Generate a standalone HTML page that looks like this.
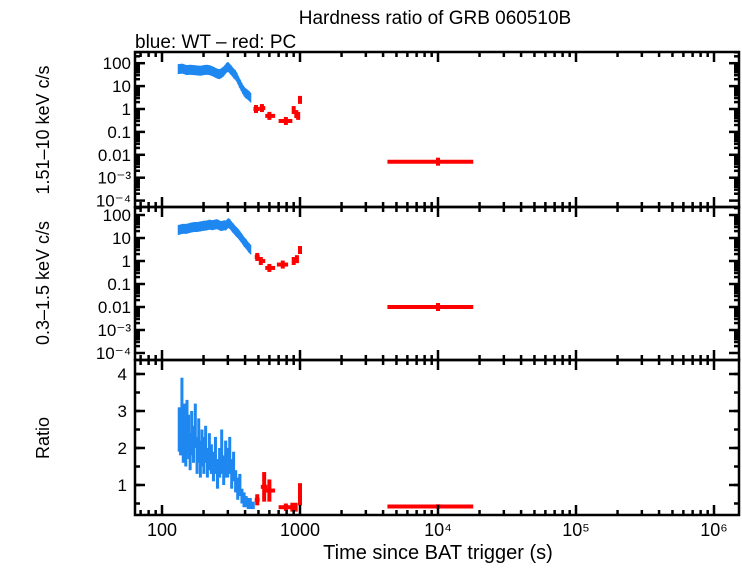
<!DOCTYPE html>
<html><head><meta charset="utf-8"><style>
body{margin:0;background:#fff;}
svg text{font-family:"Liberation Sans",sans-serif;fill:#000;}
</style></head><body>
<svg id="c" width="742" height="566" xmlns="http://www.w3.org/2000/svg">
<text x="435" y="24" font-size="19" text-anchor="middle">Hardness ratio of GRB 060510B</text>
<text x="135" y="48" font-size="19">blue: WT – red: PC</text>
<text x="438" y="559" font-size="20" text-anchor="middle">Time since BAT trigger (s)</text>
<text transform="translate(49,130) rotate(-90)" font-size="18" text-anchor="middle">1.51–10 keV c/s</text>
<text transform="translate(49,283) rotate(-90)" font-size="18" text-anchor="middle">0.3–1.5 keV c/s</text>
<text transform="translate(49,438) rotate(-90)" font-size="18" text-anchor="middle">Ratio</text>
<g id="g"></g>
</svg>
<script>
// Data
const wtHardT=[130,140,150,160,170,180,190,200,210,220,230,240,250,260,270,280,290,300,310,320,330,340,350,360,370,380,390,400,410,420,430,440];
const wtHardV=[55,58,50,52,50,48,47,50,52,50,45,40,35,33,38,45,60,70,55,45,35,30,22,15,11,8,6,5,4.5,4,3.5,3];
const pcHardT=[480,530,600,790,900,940,970,1000,10000];
const pcHardLo=[460,510,560,700,880,920,950,990,4300];
const pcHardHi=[510,560,660,880,920,960,990,1010,18000];
const pcHardV=[1,1.1,0.5,0.3,0.9,0.6,0.5,2.5,0.005];
const wtSoftT=[130,140,150,160,170,180,190,200,210,220,230,240,250,260,270,280,290,300,310,320,330,340,350,360,370,380,390,400,410,420,430,440];
const wtSoftV=[22,25,25,28,30,30,32,34,35,38,36,38,40,35,33,36,35,45,40,30,25,20,17,14,11,9,7,6,5,4,3.5,3];
const pcSoftT=[490,520,600,750,900,950,1000,10000];
const pcSoftLo=[470,505,560,680,880,930,990,4300];
const pcSoftHi=[510,560,660,820,920,970,1010,18000];
const pcSoftV=[1.5,1,0.5,0.7,1,1.2,3,0.01];
const wtRatioT=[130,133,136,139,142,145,148,152,156,160,165,170,175,180,185,190,196,202,208,215,222,230,238,246,255,264,273,282,292,302,312,322,333,345,357,370,383,397,411,425,440];
const wtRatioV=[2.5,2.3,3.0,2.2,2.5,2.0,2.6,2.3,1.9,2.4,2.1,2.6,1.8,2.2,1.7,2.0,1.8,2.1,1.6,1.9,1.7,1.5,1.8,1.3,1.6,1.9,1.4,1.7,1.6,1.8,1.3,1.5,1.1,0.9,1.0,0.7,0.6,0.55,0.5,0.5,0.45];
const wtRatioE=[0.6,0.5,0.9,0.6,0.7,0.5,0.7,0.6,0.5,0.6,0.5,0.6,0.5,0.6,0.5,0.5,0.5,0.5,0.4,0.5,0.4,0.4,0.5,0.4,0.4,0.6,0.4,0.5,0.4,0.5,0.4,0.4,0.3,0.3,0.3,0.2,0.2,0.15,0.15,0.15,0.1];
const pcRatioT=[490,550,600,790,880,930,1000,10000];
const pcRatioLo=[470,520,560,700,860,910,990,4300];
const pcRatioHi=[510,580,660,860,910,960,1010,18000];
const pcRatioV=[0.6,0.95,0.85,0.4,0.4,0.4,0.75,0.42];
const pcRatioE=[0.15,0.4,0.3,0.1,0.12,0.12,0.3,0.06];
const xTicks=[100,1000,10000,100000,1000000];
const xTickLabels=["100","1000","10⁴","10⁵","10⁶"];

const NS="http://www.w3.org/2000/svg";
const g=document.getElementById('g');
const L=135,R=739;
const X=t=>162+(Math.log10(t)-2)*138;
function el(tag,a,parent){const e=document.createElementNS(NS,tag);for(const k in a)e.setAttribute(k,a[k]);(parent||g).appendChild(e);return e;}
const panels=[
 {top:52,bot:207,y:v=>109-Math.log10(v)*22.9},
 {top:207,bot:360,y:v=>261-Math.log10(v)*23},
 {top:360,bot:515,y:v=>485-(v-1)*37}
];
const BLUE="#1f88f0",RED="#ff0000";
function line(x1,y1,x2,y2,c,w,name){const e=el('line',{x1,y1,x2,y2,stroke:c,'stroke-width':w});

return e;}
// blue WT log panels
[[wtHardT,wtHardV,0],[wtSoftT,wtSoftV,1]].forEach(([T,V,p])=>{
 const P=panels[p];
 for(let i=0;i<T.length-1;i++){
  const x1=X(T[i]),x2=X(T[i+1])+0.5;
  const y1=P.y(V[i]),y2=P.y(V[i+1]);
  const pts=`${x1},${y1-5} ${x2},${y2-5} ${x2},${y2+5} ${x1},${y1+5}`;
  const e=el('polygon',{points:pts,fill:BLUE});
  
  
 }
});
// red PC log panels
[[pcHardT,pcHardLo,pcHardHi,pcHardV,0],[pcSoftT,pcSoftLo,pcSoftHi,pcSoftV,1]].forEach(([T,Lo,Hi,V,p])=>{
 const P=panels[p];
 T.forEach((t,i)=>{const y=P.y(V[i]);
  line(X(Lo[i]),y,X(Hi[i]),y,RED,4,'pc-point');
  line(X(t),y-4,X(t),y+4,RED,4,'pc-point-err');});
});
// ratio blue
const P3=panels[2];
wtRatioT.forEach((t,i)=>{
 const x=X(t),x2=i<wtRatioT.length-1?X(wtRatioT[i+1]):x+3;
 const e=el('rect',{x:x,y:P3.y(wtRatioV[i]+wtRatioE[i]),width:Math.max(3,x2-x+1),height:P3.y(wtRatioV[i]-wtRatioE[i])-P3.y(wtRatioV[i]+wtRatioE[i]),fill:BLUE});
 
 
});
pcRatioT.forEach((t,i)=>{const y=P3.y(pcRatioV[i]);
 line(X(pcRatioLo[i]),y,X(pcRatioHi[i]),y,RED,4,'pc-ratio-point');
 line(X(t),P3.y(pcRatioV[i]+pcRatioE[i]),X(t),P3.y(pcRatioV[i]-pcRatioE[i]),RED,4,'pc-ratio-err');});
// frames & ticks
panels.forEach((P,pi)=>{
 const r=el('rect',{x:L,y:P.top,width:R-L,height:P.bot-P.top,fill:'none',stroke:'#000','stroke-width':2.5});
 
 
 for(let d=1;d<=6;d++)for(let m=1;m<10;m++){const t=m*Math.pow(10,d);const x=X(t);if(x<L||x>R)continue;
  const len=m==1?10:5;
  line(x,P.bot,x,P.bot-len,'#000',2.5,'x-tick');line(x,P.top,x,P.top+len,'#000',2.5,'x-tick');}
 if(pi<2){
  const labs=["100","10","1","0.1","0.01","10⁻³","10⁻⁴"];
  labs.forEach((lab,k)=>{const v=Math.pow(10,2-k);const y=P.y(v);
   line(L,y,L+10,y,'#000',2.5,'y-tick');line(R,y,R-10,y,'#000',2.5,'y-tick');
   for(let m=2;m<10;m++){const yy=P.y(v*m);if(yy>P.top&&yy<P.bot){line(L,yy,L+5,yy,'#000',2.5,'y-minor');line(R,yy,R-5,yy,'#000',2.5,'y-minor');}}
   const tx=el('text',{x:L-4,y:y+6,'font-size':17,'text-anchor':'end'});tx.textContent=lab;
   
   });
 } else {
  [1,2,3,4].forEach(v=>{const y=P.y(v);
   line(L,y,L+10,y,'#000',2.5,'y-tick');line(R,y,R-10,y,'#000',2.5,'y-tick');
   const tx=el('text',{x:L-8,y:y+6,'font-size':17,'text-anchor':'end'});tx.textContent=v;
   
   });
  for(let v=0.5;v<4.4;v+=0.5){const y=P.y(v);if(y<P.bot&&y>P.top){line(L,y,L+5,y,'#000',2.5,'y-minor');line(R,y,R-5,y,'#000',2.5,'y-minor');}}
 }
});
xTicks.forEach((t,i)=>{const tx=el('text',{x:X(t),y:536,'font-size':18,'text-anchor':'middle'});tx.textContent=xTickLabels[i];
 
 });
</script>
</body></html>
